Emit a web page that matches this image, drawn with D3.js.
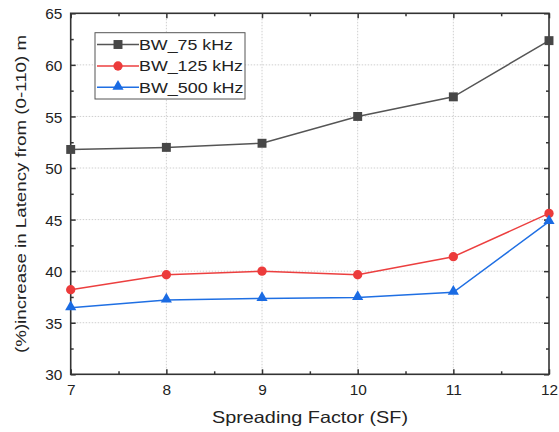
<!DOCTYPE html>
<html><head><meta charset="utf-8">
<script src="https://d3js.org/d3.v7.min.js"></script>
<style>body{margin:0;background:#fff;} svg{display:block;font-family:"Liberation Sans",Arial,sans-serif;}</style>
</head><body>
<script>
const categories = [7, 8, 9, 10, 11, 12];
const bw75 = [51.8, 52.0, 52.4, 55.0, 56.9, 62.35];
const bw125 = [38.2, 39.65, 40.0, 39.65, 41.4, 45.6];
const bw500 = [36.45, 37.2, 37.35, 37.45, 37.95, 44.8];
const seriesNames = ["BW_75 kHz", "BW_125 kHz", "BW_500 kHz"];
const yTicks = [30, 35, 40, 45, 50, 55, 60, 65];
const xTicks = [7, 8, 9, 10, 11, 12];

const W = 559, H = 432;
const m = {l: 70.7, r: 10, t: 13.3, b: 57.7};
const svg = d3.select("body").append("svg").attr("width", W).attr("height", H);
const x = d3.scaleLinear().domain([7, 12]).range([m.l, W - m.r]);
const y = d3.scaleLinear().domain([30, 65]).range([H - m.b, m.t]);

// grid
const g = svg.append("g");
g.selectAll(".gx").data(xTicks.slice(1, -1)).join("line")
  .attr("x1", d => x(d)).attr("x2", d => x(d)).attr("y1", y(30)).attr("y2", y(65))
  .attr("stroke", "#cfcfcf").attr("stroke-width", 1).attr("stroke-dasharray", "1.5,1.5");
g.selectAll(".gy").data(yTicks.slice(1, -1)).join("line")
  .attr("y1", d => y(d)).attr("y2", d => y(d)).attr("x1", x(7)).attr("x2", x(12))
  .attr("stroke", "#cfcfcf").attr("stroke-width", 1).attr("stroke-dasharray", "1.5,1.5");

// axes with inward ticks
const axColor = "#333";
const xMinor = d3.range(7.5, 12, 1);
const yMinor = d3.range(32.5, 65, 5);
function styleAxis(sel) {
  sel.select(".domain").remove();
  sel.selectAll(".tick line").attr("stroke", axColor).attr("stroke-width", 1.5);
  sel.selectAll(".tick text").attr("fill", "#222").style("font-size", "14px")
    .attr("transform", "scale(1.1,1)");
}
const xb = svg.append("g").attr("transform", `translate(0,${y(30)})`)
  .call(d3.axisBottom(x).tickValues(xTicks).tickFormat(d3.format("d")).tickSizeInner(-5).tickPadding(10.7));
styleAxis(xb);
const xbm = svg.append("g").attr("transform", `translate(0,${y(30)})`)
  .call(d3.axisBottom(x).tickValues(xMinor).tickFormat("").tickSizeInner(-3));
styleAxis(xbm);
const xt = svg.append("g").attr("transform", `translate(0,${y(65)})`)
  .call(d3.axisTop(x).tickValues(xTicks).tickFormat("").tickSizeInner(-5));
styleAxis(xt);
const xtm = svg.append("g").attr("transform", `translate(0,${y(65)})`)
  .call(d3.axisTop(x).tickValues(xMinor).tickFormat("").tickSizeInner(-3));
styleAxis(xtm);
const yl = svg.append("g").attr("transform", `translate(${x(7)},0)`)
  .call(d3.axisLeft(y).tickValues(yTicks).tickFormat(d3.format("d")).tickSizeInner(-5).tickPadding(7.6));
styleAxis(yl);
yl.selectAll(".tick text").attr("dy", "0.4em");
const ylm = svg.append("g").attr("transform", `translate(${x(7)},0)`)
  .call(d3.axisLeft(y).tickValues(yMinor).tickFormat("").tickSizeInner(-3));
styleAxis(ylm);
const yr = svg.append("g").attr("transform", `translate(${x(12)},0)`)
  .call(d3.axisRight(y).tickValues(yTicks).tickFormat("").tickSizeInner(-5));
styleAxis(yr);
const yrm = svg.append("g").attr("transform", `translate(${x(12)},0)`)
  .call(d3.axisRight(y).tickValues(yMinor).tickFormat("").tickSizeInner(-3));
styleAxis(yrm);

svg.append("rect").attr("x", x(7)).attr("y", y(65)).attr("width", x(12) - x(7)).attr("height", y(30) - y(65))
  .attr("fill", "none").attr("stroke", axColor).attr("stroke-width", 1.6);

// series
const lineColors = ["#555555", "#ec3f3f", "#1f6fe3"];
const colors = ["#474747", "#ec3b3b", "#1a6be3"];
const shapes = [d3.symbolSquare, d3.symbolCircle, d3.symbolTriangle];
const sizes = [80, 68, 54];
const data = [bw75, bw125, bw500];
const line = d3.line().x((d, i) => x(categories[i])).y(d => y(d));
const plot = svg.append("g");
data.forEach((vals, k) => {
  plot.append("path").datum(vals).attr("d", line).attr("fill", "none")
    .attr("stroke", lineColors[k]).attr("stroke-width", 1.5);
  plot.selectAll(".m" + k).data(vals).join("path")
    .attr("transform", (d, i) => `translate(${x(categories[i])},${y(d) - (k === 2 ? 0.8 : 0)})`)
    .attr("d", d3.symbol().type(shapes[k]).size(sizes[k]))
    .attr("fill", colors[k]);
});

// legend
const lg = svg.append("g");
lg.append("rect").attr("x", 95).attr("y", 32.7).attr("width", 150).attr("height", 66.3)
  .attr("fill", "#fff").attr("stroke", "#555").attr("stroke-width", 1);
const rowsY = [44.5, 66, 87.3];
const legendLen = [94, 104, 104.5];
seriesNames.forEach((n, k) => {
  lg.append("line").attr("x1", 97).attr("x2", 139).attr("y1", rowsY[k]).attr("y2", rowsY[k])
    .attr("stroke", lineColors[k]).attr("stroke-width", 1.5);
  lg.append("path").attr("transform", `translate(118,${rowsY[k] - (k === 2 ? 0.8 : 0)})`)
    .attr("d", d3.symbol().type(shapes[k]).size(sizes[k])).attr("fill", colors[k]);
  lg.append("text").attr("x", 139).attr("y", rowsY[k]).attr("dy", "0.36em")
    .attr("textLength", legendLen[k]).attr("lengthAdjust", "spacingAndGlyphs")
    .style("font-size", "14.5px").attr("fill", "#222").text(n);
});

// titles
svg.append("text").attr("x", 310).attr("y", 422.5).attr("text-anchor", "middle")
  .attr("textLength", 196).attr("lengthAdjust", "spacingAndGlyphs")
  .style("font-size", "16.5px").attr("fill", "#222").text("Spreading Factor (SF)");
svg.append("text").attr("transform", "translate(26,194) rotate(-90)")
  .attr("text-anchor", "middle").attr("textLength", 318).attr("lengthAdjust", "spacingAndGlyphs")
  .style("font-size", "15.5px").attr("fill", "#222")
  .text("(%)increase in Latency from (0-110) m");
</script>
</body></html>
